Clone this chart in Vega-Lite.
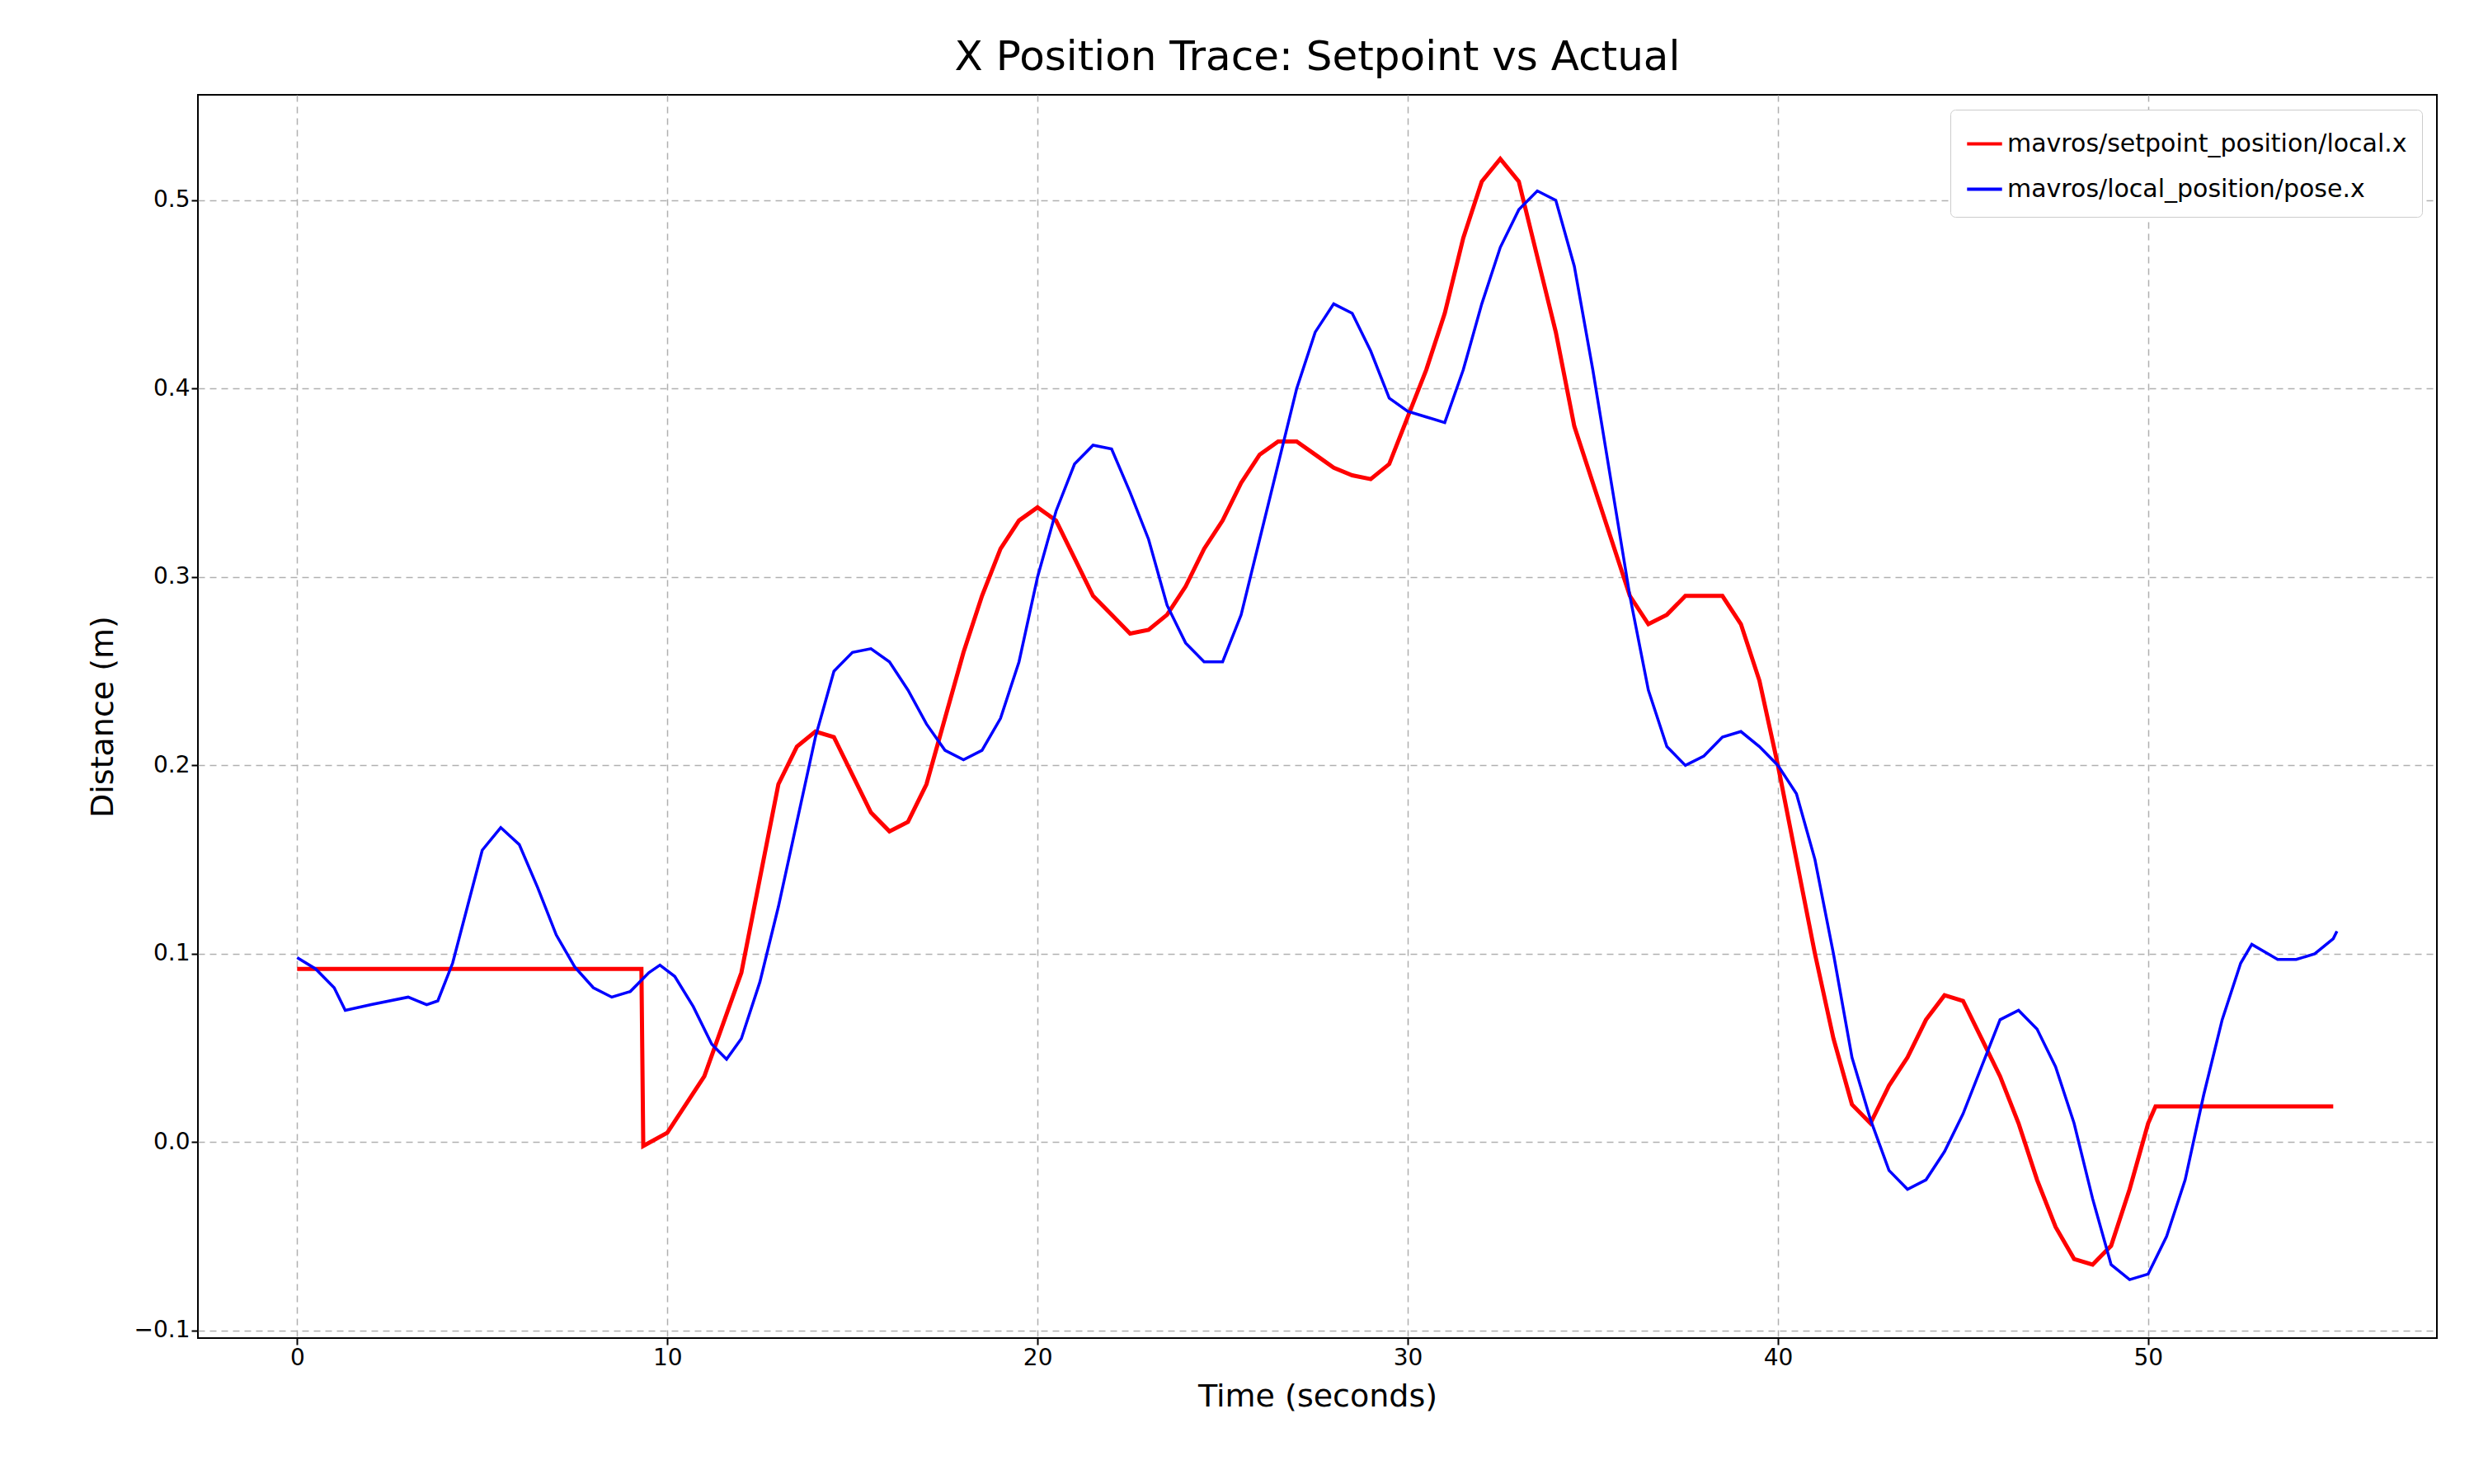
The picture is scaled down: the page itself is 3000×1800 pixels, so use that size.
{
  "$schema": "https://vega.github.io/schema/vega-lite/v6.json",
  "autosize": "none",
  "width": 2715,
  "height": 1508,
  "padding": {"left": 240, "top": 115, "right": 45, "bottom": 177},
  "background": "white",
  "title": {"text": "X Position Trace: Setpoint vs Actual", "fontSize": 50, "font": "DejaVu Sans", "fontWeight": "normal", "offset": 20},
  "config": {
    "font": "DejaVu Sans",
    "view": {"stroke": "black", "strokeWidth": 2},
    "axis": {"labelFontSize": 28, "titleFontSize": 38, "titleFontWeight": "normal", "labelColor": "black", "titleColor": "black", "domain": false, "tickColor": "black", "tickSize": 8, "tickWidth": 2, "gridColor": "#b0b0b0", "gridDash": [8, 6], "gridWidth": 1.5}
  },
  "datasets": {
    "sp": [
      {"t":0,"v":0.092},{"t":9.3,"v":0.092},{"t":9.35,"v":-0.002},{"t":10,"v":0.005},{"t":11,"v":0.035},{"t":12,"v":0.09},{"t":12.5,"v":0.14},{"t":13,"v":0.19},{"t":13.5,"v":0.21},{"t":14,"v":0.218},{"t":14.5,"v":0.215},{"t":15,"v":0.195},{"t":15.5,"v":0.175},{"t":16,"v":0.165},{"t":16.5,"v":0.17},{"t":17,"v":0.19},{"t":17.5,"v":0.225},{"t":18,"v":0.26},{"t":18.5,"v":0.29},{"t":19,"v":0.315},{"t":19.5,"v":0.33},{"t":20,"v":0.337},{"t":20.5,"v":0.33},{"t":21,"v":0.31},{"t":21.5,"v":0.29},{"t":22,"v":0.28},{"t":22.5,"v":0.27},{"t":23,"v":0.272},{"t":23.5,"v":0.28},{"t":24,"v":0.295},{"t":24.5,"v":0.315},{"t":25,"v":0.33},{"t":25.5,"v":0.35},{"t":26,"v":0.365},{"t":26.5,"v":0.372},{"t":27,"v":0.372},{"t":27.5,"v":0.365},{"t":28,"v":0.358},{"t":28.5,"v":0.354},{"t":29,"v":0.352},{"t":29.5,"v":0.36},{"t":30,"v":0.385},{"t":30.5,"v":0.41},{"t":31,"v":0.44},{"t":31.5,"v":0.48},{"t":32,"v":0.51},{"t":32.5,"v":0.522},{"t":33,"v":0.51},{"t":33.5,"v":0.47},{"t":34,"v":0.43},{"t":34.5,"v":0.38},{"t":35,"v":0.35},{"t":35.5,"v":0.32},{"t":36,"v":0.29},{"t":36.5,"v":0.275},{"t":37,"v":0.28},{"t":37.5,"v":0.29},{"t":38,"v":0.29},{"t":38.5,"v":0.29},{"t":39,"v":0.275},{"t":39.5,"v":0.245},{"t":40,"v":0.2},{"t":40.5,"v":0.15},{"t":41,"v":0.1},{"t":41.5,"v":0.055},{"t":42,"v":0.02},{"t":42.5,"v":0.01},{"t":43,"v":0.03},{"t":43.5,"v":0.045},{"t":44,"v":0.065},{"t":44.5,"v":0.078},{"t":45,"v":0.075},{"t":45.5,"v":0.055},{"t":46,"v":0.035},{"t":46.5,"v":0.01},{"t":47,"v":-0.02},{"t":47.5,"v":-0.045},{"t":48,"v":-0.062},{"t":48.5,"v":-0.065},{"t":49,"v":-0.055},{"t":49.5,"v":-0.025},{"t":50,"v":0.01},{"t":50.2,"v":0.019},{"t":55,"v":0.019}
    ],
    "pose": [
      {"t":0,"v":0.098},{"t":0.5,"v":0.092},{"t":1,"v":0.082},{"t":1.3,"v":0.07},{"t":2,"v":0.073},{"t":3,"v":0.077},{"t":3.5,"v":0.073},{"t":3.8,"v":0.075},{"t":4.2,"v":0.095},{"t":4.6,"v":0.125},{"t":5,"v":0.155},{"t":5.5,"v":0.167},{"t":6,"v":0.158},{"t":6.5,"v":0.135},{"t":7,"v":0.11},{"t":7.5,"v":0.093},{"t":8,"v":0.082},{"t":8.5,"v":0.077},{"t":9,"v":0.08},{"t":9.5,"v":0.09},{"t":9.8,"v":0.094},{"t":10.2,"v":0.088},{"t":10.7,"v":0.072},{"t":11.2,"v":0.052},{"t":11.6,"v":0.044},{"t":12,"v":0.055},{"t":12.5,"v":0.085},{"t":13,"v":0.125},{"t":13.5,"v":0.17},{"t":14,"v":0.215},{"t":14.5,"v":0.25},{"t":15,"v":0.26},{"t":15.5,"v":0.262},{"t":16,"v":0.255},{"t":16.5,"v":0.24},{"t":17,"v":0.222},{"t":17.5,"v":0.208},{"t":18,"v":0.203},{"t":18.5,"v":0.208},{"t":19,"v":0.225},{"t":19.5,"v":0.255},{"t":20,"v":0.3},{"t":20.5,"v":0.335},{"t":21,"v":0.36},{"t":21.5,"v":0.37},{"t":22,"v":0.368},{"t":22.5,"v":0.345},{"t":23,"v":0.32},{"t":23.5,"v":0.285},{"t":24,"v":0.265},{"t":24.5,"v":0.255},{"t":25,"v":0.255},{"t":25.5,"v":0.28},{"t":26,"v":0.32},{"t":26.5,"v":0.36},{"t":27,"v":0.4},{"t":27.5,"v":0.43},{"t":28,"v":0.445},{"t":28.5,"v":0.44},{"t":29,"v":0.42},{"t":29.5,"v":0.395},{"t":30,"v":0.388},{"t":30.5,"v":0.385},{"t":31,"v":0.382},{"t":31.5,"v":0.41},{"t":32,"v":0.445},{"t":32.5,"v":0.475},{"t":33,"v":0.495},{"t":33.5,"v":0.505},{"t":34,"v":0.5},{"t":34.5,"v":0.465},{"t":35,"v":0.41},{"t":35.5,"v":0.35},{"t":36,"v":0.29},{"t":36.5,"v":0.24},{"t":37,"v":0.21},{"t":37.5,"v":0.2},{"t":38,"v":0.205},{"t":38.5,"v":0.215},{"t":39,"v":0.218},{"t":39.5,"v":0.21},{"t":40,"v":0.2},{"t":40.5,"v":0.185},{"t":41,"v":0.15},{"t":41.5,"v":0.1},{"t":42,"v":0.045},{"t":42.5,"v":0.012},{"t":43,"v":-0.015},{"t":43.5,"v":-0.025},{"t":44,"v":-0.02},{"t":44.5,"v":-0.005},{"t":45,"v":0.015},{"t":45.5,"v":0.04},{"t":46,"v":0.065},{"t":46.5,"v":0.07},{"t":47,"v":0.06},{"t":47.5,"v":0.04},{"t":48,"v":0.01},{"t":48.5,"v":-0.03},{"t":49,"v":-0.065},{"t":49.5,"v":-0.073},{"t":50,"v":-0.07},{"t":50.5,"v":-0.05},{"t":51,"v":-0.02},{"t":51.5,"v":0.025},{"t":52,"v":0.065},{"t":52.5,"v":0.095},{"t":52.8,"v":0.105},{"t":53.5,"v":0.097},{"t":54,"v":0.097},{"t":54.5,"v":0.1},{"t":55,"v":0.108},{"t":55.1,"v":0.112}
    ]
  },
  "encoding": {
    "x": {"field": "t", "type": "quantitative", "title": "Time (seconds)", "scale": {"domain": [-2.68, 57.8], "nice": false, "zero": false}, "axis": {"values": [0, 10, 20, 30, 40, 50], "titlePadding": 14}},
    "y": {"field": "v", "type": "quantitative", "title": "Distance (m)", "scale": {"domain": [-0.104, 0.556], "nice": false, "zero": false}, "axis": {"values": [-0.1, 0, 0.1, 0.2, 0.3, 0.4, 0.5], "format": ".1f", "titlePadding": 18}},
    "color": {"field": "s", "type": "nominal", "scale": {"domain": ["mavros/setpoint_position/local.x", "mavros/local_position/pose.x"], "range": ["#ff0000", "#0000ff"]},
      "legend": {"title": null, "orient": "top-right", "offset": 18, "labelFontSize": 30, "symbolType": "stroke", "symbolSize": 1800, "symbolStrokeWidth": 4, "rowPadding": 16, "padding": 18, "strokeColor": "#cccccc", "fillColor": "white", "cornerRadius": 6, "labelLimit": 1000}}
  },
  "layer": [
    {"data": {"name": "sp"}, "transform": [{"calculate": "'mavros/setpoint_position/local.x'", "as": "s"}], "mark": {"type": "line", "strokeWidth": 5}},
    {"data": {"name": "pose"}, "transform": [{"calculate": "'mavros/local_position/pose.x'", "as": "s"}], "mark": {"type": "line", "strokeWidth": 3.5}}
  ]
}
